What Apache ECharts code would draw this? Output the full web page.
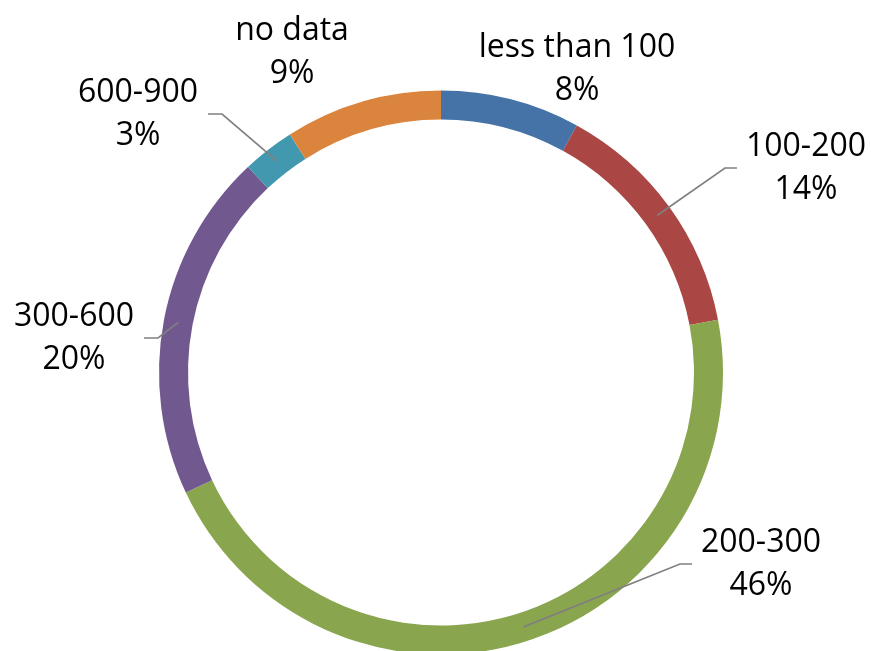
<!DOCTYPE html>
<html>
<head>
<meta charset="utf-8">
<script src="https://cdn.jsdelivr.net/npm/echarts@6/dist/echarts.min.js"></script>
<style>
  html, body { margin: 0; padding: 0; background: #ffffff; }
  #chart { width: 871px; height: 651px; }
</style>
</head>
<body>
<div id="chart"></div>
<script>
// Share of records by range (percent)
const categories = ['less than 100', '100-200', '200-300', '300-600', '600-900', 'no data'];
const shares = [8, 14, 46, 20, 3, 9];
const colors = ['#4572A7', '#AA4643', '#89A54E', '#71588F', '#4198AF', '#DB843D'];

// Label block centres and whether each label has a leader line
const labelSpots = [
  { x: 577, y: 69,  line: false },
  { x: 806, y: 168, line: true, side: 'left' },
  { x: 761, y: 564, line: true, side: 'left' },
  { x: 74,  y: 338, line: true, side: 'right' },
  { x: 138, y: 114, line: true, side: 'right' },
  { x: 292, y: 52,  line: false }
];

const cx = 441, cy = 372.5, rIn = 253, rOut = 282;
const rMid = (rIn + rOut) / 2;
const total = shares.reduce((a, b) => a + b, 0);

// Mid angle of each slice, clockwise from 12 o'clock
const midAngles = [];
let acc = 0;
shares.forEach(v => {
  midAngles.push((acc + v / 2) / total * Math.PI * 2);
  acc += v;
});

const ringBase = {
  type: 'pie',
  center: [cx, cy],
  radius: [rIn, rOut],
  startAngle: 90,
  clockwise: true,
  avoidLabelOverlap: false,
  silent: true
};

const chart = echarts.init(document.getElementById('chart'), null, { renderer: 'canvas' });

chart.setOption({
  animation: false,
  backgroundColor: '#ffffff',
  series: [
    // coloured ring
    Object.assign({}, ringBase, {
      z: 2,
      itemStyle: { borderWidth: 0 },
      label: { show: false },
      labelLine: { show: false },
      data: categories.map((name, i) => ({
        name: name,
        value: shares[i],
        itemStyle: { color: colors[i] }
      }))
    }),
    // labels and leader lines drawn above the ring
    Object.assign({}, ringBase, {
      z: 3,
      itemStyle: { color: 'rgba(0,0,0,0)', borderWidth: 0 },
      label: {
        show: true,
        position: 'outside',
        formatter: '{b}\n{d}%',
        fontFamily: '"Open Sans", sans-serif',
        fontSize: 32,
        lineHeight: 43,
        color: '#000000',
        align: 'center'
      },
      labelLine: {
        show: true,
        lineStyle: { color: '#808080', width: 1.7 }
      },
      labelLayout: function (p) {
        const s = labelSpots[p.dataIndex];
        const a = midAngles[p.dataIndex];
        const start = [cx + rMid * Math.sin(a), cy - rMid * Math.cos(a)];
        const out = { x: s.x, y: s.y, align: 'center', verticalAlign: 'middle' };
        if (s.line) {
          const halfW = p.labelRect.width / 2;
          let endX, kneeX;
          if (s.side === 'left') {
            endX = s.x - halfW - 9;
            kneeX = endX - 12;
          } else {
            endX = s.x + halfW + 10;
            kneeX = endX + 14;
          }
          out.labelLinePoints = [start, [kneeX, s.y], [endX, s.y]];
        }
        return out;
      },
      data: categories.map((name, i) => ({
        name: name,
        value: shares[i],
        labelLine: { show: labelSpots[i].line }
      }))
    })
  ]
});
</script>
</body>
</html>
